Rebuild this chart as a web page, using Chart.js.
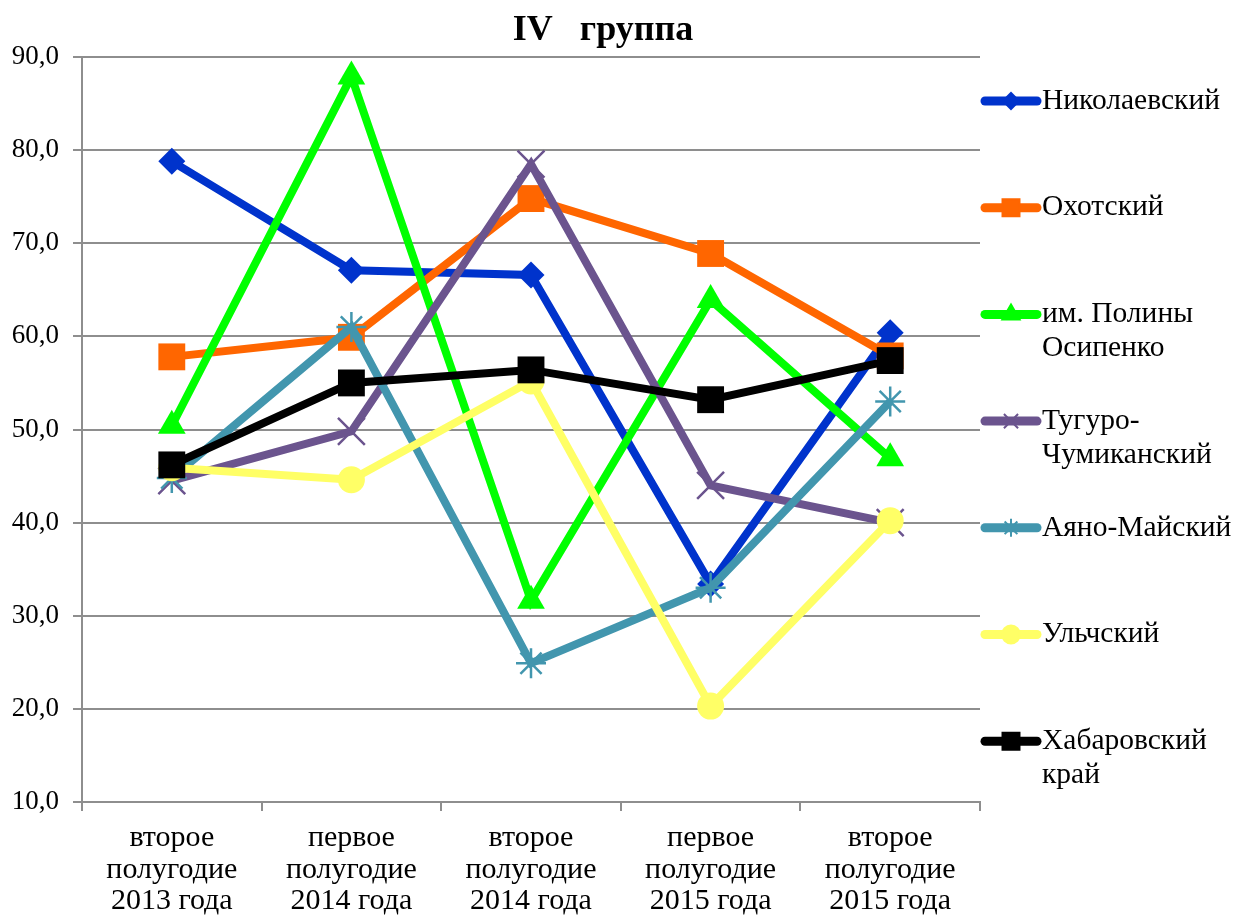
<!DOCTYPE html>
<html lang="ru">
<head>
<meta charset="utf-8">
<title>IV группа</title>
<script src="https://cdn.jsdelivr.net/npm/chart.js@4.4.1/dist/chart.umd.min.js"></script>
<style>
  html, body { margin: 0; padding: 0; background: #fff; }
  #chart { display: block; }
</style>
</head>
<body>
<canvas id="chart" width="1248" height="918"></canvas>
<script>
// data
const periods = [
  ["второе", "полугодие", "2013 года"],
  ["первое", "полугодие", "2014 года"],
  ["второе", "полугодие", "2014 года"],
  ["первое", "полугодие", "2015 года"],
  ["второе", "полугодие", "2015 года"],
];
const seriesNames = [
  ["Николаевский"],
  ["Охотский"],
  ["им. Полины", "Осипенко"],
  ["Тугуро-", "Чумиканский"],
  ["Аяно-Майский"],
  ["Ульчский"],
  ["Хабаровский", "край"],
];
const nikolaevsky = [78.8, 67.1, 66.6, 33.4, 60.4];
const okhotsky = [57.8, 59.9, 74.8, 68.9, 57.9];
const osipenko = [50.4, 87.9, 31.6, 63.9, 46.9];
const tuguro = [44.5, 49.8, 78.5, 44.0, 40.0];
const ayano = [44.8, 61.0, 24.9, 33.0, 53.0];
const ulchsky = [45.9, 44.6, 55.2, 20.3, 40.2];
const khabarovsk = [46.2, 55.0, 56.4, 53.2, 57.4];
const yMin = 10, yMax = 90, yStep = 10;

const seriesValues = [nikolaevsky, okhotsky, osipenko, tuguro, ayano, ulchsky, khabarovsk];
const colors = ["#0033cc", "#ff6600", "#00ff00", "#6b548e", "#4296ae", "#ffff66", "#000000"];
const markers = ["rectRot", "rect", "triangle", "crossRot", "star", "circle", "rect"];
const markerSize = [13.5, 19, 16, 19, 15, 13.5, 19];
const legendMarkerSize = [8, 12, 10, 10, 9, 9, 12];

const serif = "'Liberation Serif', 'Times New Roman', serif";
const gridGray = "#8e8e8e";

const datasets = seriesValues.map((vals, i) => {
  const stroked = markers[i] === "crossRot" || markers[i] === "star";
  return {
    label: seriesNames[i].join(" "),
    data: vals,
    borderColor: colors[i],
    backgroundColor: colors[i],
    borderWidth: 8,
    pointStyle: markers[i],
    pointRadius: markerSize[i],
    pointBackgroundColor: colors[i],
    pointBorderColor: colors[i],
    pointBorderWidth: stroked ? 2.5 : 0,
    tension: 0,
    order: seriesValues.length - i, // last series on top, like Excel
  };
});

// title + legend drawn by hand so the labels can wrap like the original
const decorations = {
  id: "decorations",
  afterDraw(chart) {
    const ctx = chart.ctx;
    ctx.save();
    ctx.fillStyle = "#000";
    ctx.font = "bold 36px " + serif;
    ctx.textAlign = "center";
    ctx.textBaseline = "alphabetic";
    ctx.fillText("IV   группа", 603, 40);

    ctx.font = "29.5px " + serif;
    ctx.textAlign = "left";
    ctx.textBaseline = "middle";
    seriesNames.forEach((lines, i) => {
      const y = 101 + i * 106.7;
      ctx.strokeStyle = colors[i];
      ctx.lineWidth = 9;
      ctx.lineCap = "round";
      ctx.beginPath();
      ctx.moveTo(985, y);
      ctx.lineTo(1037, y);
      ctx.stroke();
      ctx.fillStyle = colors[i];
      ctx.lineWidth = 2;
      ctx.lineCap = "butt";
      Chart.helpers.drawPoint(ctx, {
        pointStyle: markers[i],
        radius: legendMarkerSize[i],
        rotation: 0,
        borderWidth: 2,
      }, 1011, y);
      ctx.fillStyle = "#000";
      lines.forEach((t, k) => ctx.fillText(t, 1042, y + k * 34));
    });
    ctx.restore();
  },
};

new Chart(document.getElementById("chart"), {
  type: "line",
  data: { labels: periods, datasets: datasets },
  options: {
    responsive: false,
    animation: false,
    devicePixelRatio: 1,
    layout: { padding: { top: 57, right: 268, left: 0, bottom: 0 } },
    plugins: {
      legend: { display: false },
      title: { display: false },
      tooltip: { enabled: false },
    },
    scales: {
      x: {
        offset: true,
        grid: {
          offset: true,
          drawOnChartArea: false,
          drawTicks: true,
          tickLength: 9,
          color: gridGray,
          lineWidth: 2,
        },
        border: { display: true, color: gridGray, width: 2 },
        ticks: {
          color: "#000",
          font: { family: serif, size: 30, lineHeight: 1.04 },
          padding: 12,
          maxRotation: 0,
          autoSkip: false,
        },
        afterFit(scale) { scale.height = 116; },
      },
      y: {
        min: yMin,
        max: yMax,
        ticks: {
          stepSize: yStep,
          color: "#000",
          font: { family: serif, size: 27 },
          padding: 14,
          callback: (v) => v.toFixed(1).replace(".", ","),
        },
        grid: { color: gridGray, lineWidth: 2, tickLength: 9 },
        border: { display: true, color: gridGray, width: 2 },
        afterFit(scale) { scale.width = 82; },
      },
    },
  },
  plugins: [decorations],
});
</script>
</body>
</html>
